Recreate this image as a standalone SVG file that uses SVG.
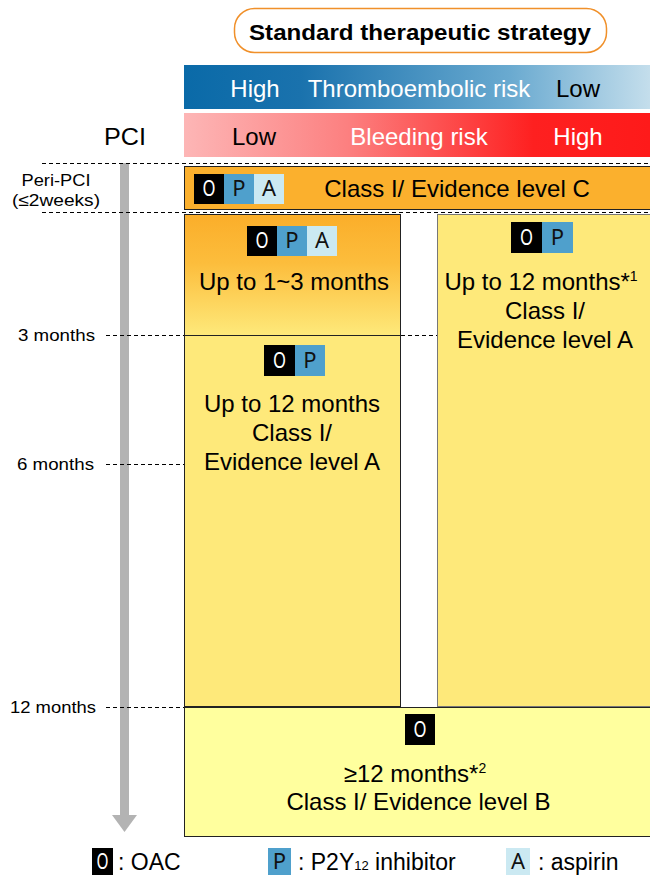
<svg xmlns="http://www.w3.org/2000/svg" width="650" height="875" viewBox="0 0 650 875">
<defs>
<linearGradient id="gBlue" x1="0" y1="0" x2="1" y2="0">
<stop offset="0" stop-color="#0a6aa8"/><stop offset="0.25" stop-color="#1a72ad"/><stop offset="0.7" stop-color="#6aaad0"/><stop offset="1" stop-color="#c4deec"/>
</linearGradient>
<linearGradient id="gRed" x1="0" y1="0" x2="1" y2="0">
<stop offset="0" stop-color="#fdb6b6"/><stop offset="0.35" stop-color="#fc8080"/><stop offset="0.75" stop-color="#fe2020"/><stop offset="1" stop-color="#fe1a1a"/>
</linearGradient>
<linearGradient id="gOrange" x1="0" y1="0" x2="0" y2="1">
<stop offset="0" stop-color="#fbae2a"/><stop offset="0.4" stop-color="#fcbd3c"/><stop offset="1" stop-color="#fee97a"/>
</linearGradient>
<style>
text{font-family:"Liberation Sans",Arial,sans-serif;}
.t{font-size:24px;fill:#000;text-anchor:middle;}
.w{fill:#fff;}
.s{font-size:17px;fill:#000;text-anchor:middle;}
.dash{stroke:#000;stroke-width:1;stroke-dasharray:4,3;fill:none;}
.badge{font-family:"Noto Sans","Open Sans",sans-serif;font-size:22px;text-anchor:middle;}
.O{fill:#000;}.P{fill:#4fa0cc;}.A{fill:#cbe9f2;}
.box{stroke:#222;stroke-width:1;}
.lg{font-size:23px;}
</style>
</defs>

<g id="title">
<rect x="234.5" y="8.5" width="372" height="44" rx="20" fill="#fff" stroke="#f0902a" stroke-width="1.5"/>
<text x="420" y="40" text-anchor="middle" font-size="22" font-weight="bold" textLength="342" lengthAdjust="spacingAndGlyphs">Standard therapeutic strategy</text>
</g>

<g id="thrombo-bar">
<rect x="184" y="65" width="466" height="44" fill="url(#gBlue)"/>
<text class="t w" x="255" y="97">High</text>
<text class="t w" x="419" y="97">Thromboembolic risk</text>
<text class="t" x="578" y="97">Low</text>
</g>

<g id="bleeding-bar">
<rect x="184" y="113" width="466" height="44" fill="url(#gRed)"/>
<text class="t" x="254" y="145">Low</text>
<text class="t w" x="419" y="145">Bleeding risk</text>
<text class="t w" x="578" y="145">High</text>
</g>

<g id="timeline">
<text class="t" x="125" y="145" textLength="42" lengthAdjust="spacingAndGlyphs">PCI</text>
<rect x="120" y="163" width="9" height="653" fill="#b3b3b3"/>
<polygon points="112,815 137,815 124.5,832" fill="#b3b3b3"/>
<text class="s" x="56" y="186" textLength="69" lengthAdjust="spacingAndGlyphs">Peri-PCI</text>
<text class="s" x="56" y="206" textLength="88" lengthAdjust="spacingAndGlyphs">(≤2weeks)</text>
<text class="s" x="56.5" y="341" textLength="77" lengthAdjust="spacingAndGlyphs">3 months</text>
<text class="s" x="55.5" y="470" textLength="77" lengthAdjust="spacingAndGlyphs">6 months</text>
<text class="s" x="53" y="713" textLength="86" lengthAdjust="spacingAndGlyphs">12 months</text>
</g>

<g id="guides">
<line class="dash" x1="42" y1="163.5" x2="650" y2="163.5"/>
<line class="dash" x1="42" y1="212.5" x2="650" y2="212.5"/>
<line class="dash" x1="106" y1="335.5" x2="184" y2="335.5"/>
<line class="dash" x1="401" y1="335.5" x2="437" y2="335.5"/>
<line class="dash" x1="106" y1="464.5" x2="184" y2="464.5"/>
<line class="dash" x1="106" y1="707.5" x2="184" y2="707.5"/>
</g>

<g id="peri-pci">
<rect class="box" x="184.5" y="166.5" width="470" height="43" fill="#fbb02d"/>
<rect class="O" x="194" y="174" width="30" height="30"/><text class="badge" x="209" y="196" fill="#fff" textLength="13" lengthAdjust="spacingAndGlyphs">O</text>
<rect class="P" x="224" y="174" width="30" height="30"/><text class="badge" x="239" y="196" fill="#111">P</text>
<rect class="A" x="254" y="174" width="30" height="30"/><text class="badge" x="269" y="196" fill="#111">A</text>
<text class="t" x="457" y="197">Class I/ Evidence level C</text>
</g>

<g id="left-column">
<rect class="box" x="184.5" y="214.5" width="216" height="492" fill="#fee97a"/>
<rect x="185" y="215" width="215" height="120" fill="url(#gOrange)"/>
<line x1="184" y1="335.5" x2="401" y2="335.5" stroke="#222" stroke-width="1"/>
<rect class="O" x="247" y="226" width="30" height="30"/><text class="badge" x="262" y="248" fill="#fff" textLength="13" lengthAdjust="spacingAndGlyphs">O</text>
<rect class="P" x="277" y="226" width="30" height="30"/><text class="badge" x="292" y="248" fill="#111">P</text>
<rect class="A" x="307" y="226" width="30" height="30"/><text class="badge" x="322" y="248" fill="#111">A</text>
<text class="t" x="294" y="290">Up to 1~3 months</text>
<rect class="O" x="264" y="345" width="31" height="31"/><text class="badge" x="279.5" y="368" fill="#fff" textLength="13" lengthAdjust="spacingAndGlyphs">O</text>
<rect class="P" x="295" y="345" width="30" height="31"/><text class="badge" x="310" y="368" fill="#111">P</text>
<text class="t" x="292" y="412">Up to 12 months</text>
<text class="t" x="292" y="441">Class I/</text>
<text class="t" x="292" y="470">Evidence level A</text>
</g>

<g id="right-column">
<rect x="437.5" y="214.5" width="214" height="492" fill="#fee97a" stroke="#777" stroke-width="1"/>
<rect class="O" x="511" y="222" width="31" height="31"/><text class="badge" x="526.5" y="245" fill="#fff" textLength="13" lengthAdjust="spacingAndGlyphs">O</text>
<rect class="P" x="542" y="222" width="31" height="31"/><text class="badge" x="557.5" y="245" fill="#111">P</text>
<text class="t" x="541" y="290">Up to 12 months*<tspan font-size="14" dy="-9">1</tspan></text>
<text class="t" x="545" y="319">Class I/</text>
<text class="t" x="545" y="348">Evidence level A</text>
</g>

<g id="long-term">
<rect class="box" x="184.5" y="707.5" width="470" height="129" fill="#ffff9e"/>
<rect class="O" x="405" y="714" width="30" height="31"/><text class="badge" x="420" y="737" fill="#fff" textLength="13" lengthAdjust="spacingAndGlyphs">O</text>
<text class="t" x="415" y="782">≥12 months*<tspan font-size="14" dy="-9">2</tspan></text>
<text class="t" x="418.5" y="810">Class I/ Evidence level B</text>
</g>

<g id="legend">
<rect class="O" x="92" y="848" width="21" height="27"/><text class="badge" x="102.5" y="869" fill="#fff" font-size="20" textLength="12" lengthAdjust="spacingAndGlyphs">O</text>
<text class="lg" x="118" y="870">: OAC</text>
<rect class="P" x="268" y="848" width="23" height="27"/><text class="badge" x="279.5" y="869" fill="#111" font-size="20">P</text>
<text class="lg" x="298" y="870">: P2Y<tspan font-size="13">12</tspan> inhibitor</text>
<rect class="A" x="506" y="848" width="24" height="27"/><text class="badge" x="518" y="869" fill="#111" font-size="20">A</text>
<text class="lg" x="538" y="870" font-size="22">: aspirin</text>
</g>
</svg>
